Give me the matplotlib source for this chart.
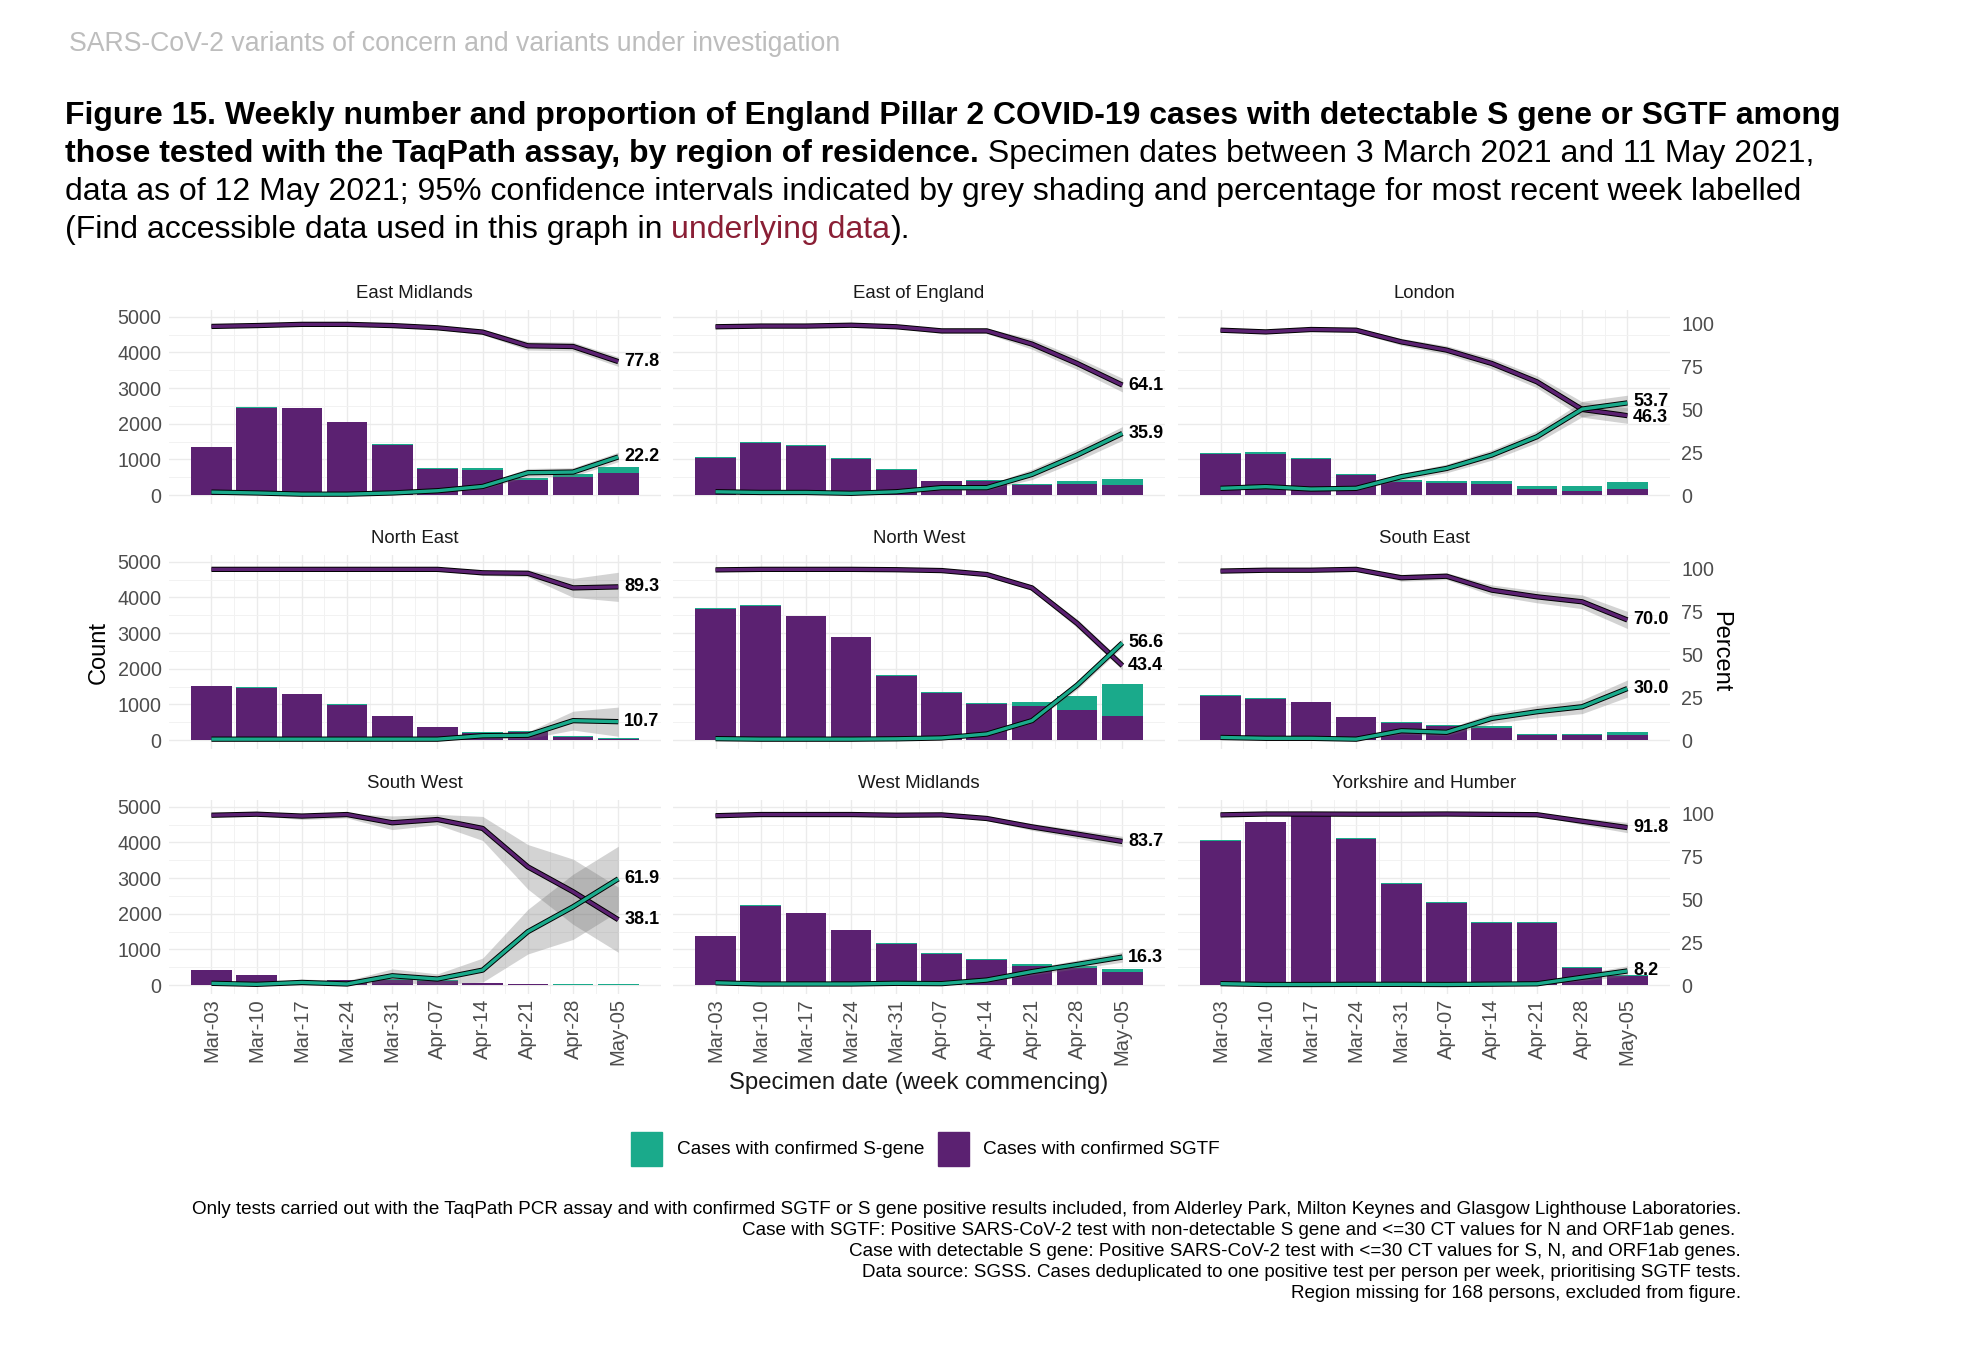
import numpy as np
import matplotlib
matplotlib.use('Agg')
import matplotlib.pyplot as plt
from matplotlib.patches import Rectangle

plt.rcParams['font.family'] = ['Liberation Sans', 'DejaVu Sans']

W, H = 1966, 1367

weeks = ['Mar-03', 'Mar-10', 'Mar-17', 'Mar-24', 'Mar-31',
         'Apr-07', 'Apr-14', 'Apr-21', 'Apr-28', 'May-05']

regions = ['East Midlands', 'East of England', 'London',
           'North East', 'North West', 'South East',
           'South West', 'West Midlands', 'Yorkshire and Humber']

# weekly counts of cases with confirmed SGTF (purple) and S-gene (teal)
sgtf_n = {
    'East Midlands':        [1333, 2448, 2438, 2047, 1404, 729, 711, 410, 512, 619],
    'East of England':      [1036, 1455, 1381, 1018, 715, 385, 402, 271, 308, 281],
    'London':               [1141, 1147, 1010, 566, 375, 340, 308, 166, 126, 169],
    'North East':           [1515, 1470, 1284, 995, 670, 372, 210, 236, 91, 42],
    'North West':           [3681, 3766, 3469, 2883, 1809, 1321, 1010, 945, 839, 686],
    'South East':           [1233, 1156, 1064, 633, 468, 401, 335, 149, 143, 150],
    'South West':           [417, 269, 123, 139, 151, 125, 55, 17, 12, 8],
    'West Midlands':        [1365, 2230, 2016, 1542, 1156, 881, 708, 543, 469, 376],
    'Yorkshire and Humber': [4033, 4566, 4752, 4096, 2839, 2311, 1748, 1745, 491, 257],
}
sgene_n = {
    'East Midlands':        [23, 30, 12, 10, 17, 19, 37, 58, 77, 176],
    'East of England':      [20, 22, 21, 10, 14, 17, 18, 37, 94, 158],
    'London':               [46, 59, 37, 23, 45, 62, 94, 86, 126, 195],
    'North East':           [8, 7, 6, 5, 3, 2, 5, 7, 12, 5],
    'North West':           [30, 19, 17, 14, 13, 16, 37, 120, 395, 894],
    'South East':           [19, 12, 11, 3, 27, 19, 48, 29, 35, 65],
    'South West':           [4, 1, 2, 1, 9, 5, 5, 8, 10, 13],
    'West Midlands':        [18, 13, 12, 9, 12, 7, 21, 46, 64, 73],
    'Yorkshire and Humber': [33, 14, 14, 16, 11, 7, 9, 12, 23, 23],
}

# weekly percentages (lines)
sgtf_pct = {
    'East Midlands':        [98.3, 98.8, 99.5, 99.5, 98.8, 97.5, 95.0, 87.0, 86.6, 77.8],
    'East of England':      [98.1, 98.5, 98.5, 99.0, 98.1, 95.7, 95.7, 88.0, 76.7, 64.1],
    'London':               [96.1, 95.1, 96.5, 96.1, 89.3, 84.5, 76.7, 66.0, 49.9, 46.3],
    'North East':           [99.5, 99.5, 99.5, 99.5, 99.5, 99.5, 97.5, 97.2, 88.7, 89.3],
    'North West':           [99.2, 99.5, 99.5, 99.5, 99.3, 98.8, 96.5, 88.7, 68.0, 43.4],
    'South East':           [98.5, 99.0, 99.0, 99.5, 94.6, 95.5, 87.4, 83.5, 80.6, 70.0],
    'South West':           [99.0, 99.6, 98.5, 99.4, 94.6, 96.5, 91.3, 68.9, 54.4, 38.1],
    'West Midlands':        [98.7, 99.4, 99.4, 99.4, 99.0, 99.2, 97.1, 92.2, 88.0, 83.7],
    'Yorkshire and Humber': [99.2, 99.7, 99.7, 99.6, 99.6, 99.7, 99.5, 99.3, 95.5, 91.8],
}
sgene_pct = {
    'East Midlands':        [1.7, 1.2, 0.5, 0.5, 1.2, 2.5, 5.0, 13.0, 13.4, 22.2],
    'East of England':      [1.9, 1.5, 1.5, 1.0, 1.9, 4.3, 4.3, 12.0, 23.3, 35.9],
    'London':               [3.9, 4.9, 3.5, 3.9, 10.7, 15.5, 23.3, 34.0, 50.1, 53.7],
    'North East':           [0.5, 0.5, 0.5, 0.5, 0.5, 0.5, 2.5, 2.8, 11.3, 10.7],
    'North West':           [0.8, 0.5, 0.5, 0.5, 0.7, 1.2, 3.5, 11.3, 32.0, 56.6],
    'South East':           [1.5, 1.0, 1.0, 0.5, 5.4, 4.5, 12.6, 16.5, 19.4, 30.0],
    'South West':           [1.0, 0.4, 1.5, 0.6, 5.4, 3.5, 8.7, 31.1, 45.6, 61.9],
    'West Midlands':        [1.3, 0.6, 0.6, 0.6, 1.0, 0.8, 2.9, 7.8, 12.0, 16.3],
    'Yorkshire and Humber': [0.8, 0.3, 0.3, 0.4, 0.4, 0.3, 0.5, 0.7, 4.5, 8.2],
}
# half width of the 95% CI (percentage points)
ci_half = {
    'East Midlands':        [0.6, 0.4, 0.4, 0.4, 0.5, 1.0, 1.5, 2.5, 2.5, 2.8],
    'East of England':      [0.7, 0.6, 0.6, 0.6, 0.8, 1.5, 1.5, 3.0, 3.5, 4.0],
    'London':               [0.8, 0.8, 0.8, 1.2, 2.0, 2.5, 3.0, 3.5, 4.5, 4.5],
    'North East':           [0.3, 0.3, 0.4, 0.5, 0.6, 0.8, 1.5, 2.0, 5.5, 8.5],
    'North West':           [0.2, 0.2, 0.2, 0.3, 0.4, 0.5, 1.0, 1.5, 2.5, 2.5],
    'South East':           [0.7, 0.6, 0.6, 0.5, 2.0, 2.0, 3.0, 3.5, 4.0, 5.0],
    'South West':           [1.0, 0.8, 2.0, 2.0, 4.0, 3.0, 7.0, 13.0, 19.0, 19.0],
    'West Midlands':        [0.6, 0.4, 0.4, 0.4, 0.6, 0.6, 1.2, 2.0, 2.5, 3.0],
    'Yorkshire and Humber': [0.3, 0.2, 0.2, 0.2, 0.3, 0.3, 0.4, 0.5, 2.0, 3.0],
}

PURPLE = '#5B2171'
TEAL = '#1AAA8B'
SCALE = 48.1   # percent -> count axis

fig = plt.figure(figsize=(W / 100, H / 100), dpi=100)
fig.patch.set_facecolor('white')
renderer = fig.canvas.get_renderer()

def fx(px):
    return px / W

def fy(py):
    return 1 - py / H

col_left = [168.5, 672.6, 1177.6]
row_top = [309.6, 554.6, 799.6]
pw, ph = 492.7, 194.7
ylo, yhi = -260, 5200
cnt_per_px = (yhi - ylo) / ph

x = np.arange(len(weeks))
for i, reg in enumerate(regions):
    r, c = divmod(i, 3)
    ax = fig.add_axes([fx(col_left[c]), fy(row_top[r] + ph), pw / W, ph / H])
    ax.set_xlim(-0.95, 9.95)
    ax.set_ylim(ylo, yhi)
    for s in ax.spines.values():
        s.set_visible(False)
    ax.set_yticks(range(0, 5001, 1000))
    ax.set_yticks(range(500, 5000, 1000), minor=True)
    ax.set_xticks(x)
    ax.set_xticks(x[:-1] + 0.5, minor=True)
    ax.grid(True, which='major', color='#EBEBEB', lw=1.0)
    ax.grid(True, which='minor', color='#F2F2F2', lw=0.7)
    ax.set_axisbelow(True)
    ax.tick_params(which='both', length=0, labelsize=14.2, labelcolor='#4D4D4D')
    ax.tick_params(axis='x', pad=3)
    ax.tick_params(axis='y', pad=5)
    if c != 0:
        ax.set_yticklabels([])
    if r == 2:
        ax.set_xticklabels(weeks, rotation=90, fontsize=14.5)
    else:
        ax.set_xticklabels([])

    sg = np.array(sgtf_n[reg])
    sn = np.array(sgene_n[reg])
    ax.bar(x, sg, width=0.9, color=PURPLE, lw=0)
    ax.bar(x, sn, width=0.9, bottom=sg, color=TEAL, lw=0)

    pt = np.array(sgtf_pct[reg])
    ps = np.array(sgene_pct[reg])
    ci = np.array(ci_half[reg])
    for p in (pt, ps):
        lo = np.clip(p - ci, 0, 100) * SCALE
        hi = np.clip(p + ci, 0, 100) * SCALE
        ax.fill_between(x, lo, hi, color='#6E6E6E', alpha=0.3, lw=0)
    labels = []
    for p, col in ((pt, PURPLE), (ps, TEAL)):
        ax.plot(x, p * SCALE, color='black', lw=3.8, solid_capstyle='butt')
        ax.plot(x, p * SCALE, color=col, lw=2.4, solid_capstyle='butt')
        t = ax.text(9.13, p[-1] * SCALE, f'{p[-1]:.1f}', ha='left', va='center',
                    fontsize=13, fontweight='bold', color='black', clip_on=False)
        labels.append(t)

    # nudge the two end labels apart when they would collide
    ya, yb = labels[0].get_position()[1], labels[1].get_position()[1]
    hgt = labels[0].get_window_extent(renderer).height * cnt_per_px * 0.95
    if abs(ya - yb) < hgt:
        mid = (ya + yb) / 2
        sgn = 1 if ya > yb else -1
        labels[0].set_y(mid + sgn * hgt / 2)
        labels[1].set_y(mid - sgn * hgt / 2)

    ax.set_title(reg, fontsize=13.4, color='#1A1A1A', pad=8.5)

    if c == 2:
        ax2 = ax.twinx()
        ax2.set_ylim(ylo / SCALE, yhi / SCALE)
        ax2.set_yticks([0, 25, 50, 75, 100])
        for s in ax2.spines.values():
            s.set_visible(False)
        ax2.tick_params(length=0, labelsize=14.2, labelcolor='#4D4D4D', pad=8)

fig.text(fx(99), fy(652), 'Count', rotation=90, ha='center', va='center', fontsize=17)
fig.text(fx(1720), fy(652), 'Percent', rotation=270, ha='center', va='center', fontsize=17)
fig.text(fx(919), fy(1083), 'Specimen date (week commencing)', ha='center', va='center',
         fontsize=17.2, color='#1A1A1A')

# header and title
fig.text(fx(69), fy(44), 'SARS-CoV-2 variants of concern and variants under investigation',
         ha='left', va='center', fontsize=19.2, color='#BDBDBD')

tsize = 23
t1 = fig.text(fx(65), fy(124), 'Figure 15. Weekly number and proportion of England Pillar 2 '
              'COVID-19 cases with detectable S gene or SGTF among',
              ha='left', va='baseline', fontsize=tsize, fontweight='bold')
t2 = fig.text(fx(65), fy(162), 'those tested with the TaqPath assay, by region of residence.',
              ha='left', va='baseline', fontsize=tsize, fontweight='bold')
bb = t2.get_window_extent(renderer)
fig.text(bb.x1 / W, fy(162), ' Specimen dates between 3 March 2021 and 11 May 2021,',
         ha='left', va='baseline', fontsize=tsize)
fig.text(fx(65), fy(200), 'data as of 12 May 2021; 95% confidence intervals indicated by grey '
         'shading and percentage for most recent week labelled',
         ha='left', va='baseline', fontsize=tsize)
t4 = fig.text(fx(65), fy(238), '(Find accessible data used in this graph in ',
              ha='left', va='baseline', fontsize=tsize)
bb = t4.get_window_extent(renderer)
t5 = fig.text(bb.x1 / W, fy(238), 'underlying data', ha='left', va='baseline',
              fontsize=tsize, color='#8A1F35')
bb = t5.get_window_extent(renderer)
fig.text(bb.x1 / W, fy(238), ').', ha='left', va='baseline', fontsize=tsize)

# legend
for sx, tx, col, lab in ((631, 677, TEAL, 'Cases with confirmed S-gene'),
                         (938, 983, PURPLE, 'Cases with confirmed SGTF')):
    fig.add_artist(Rectangle((fx(sx), fy(1166)), 31 / W, 34 / H, color=col,
                             transform=fig.transFigure))
    fig.text(fx(tx), fy(1149), lab, ha='left', va='center', fontsize=13.7)

notes = ['Only tests carried out with the TaqPath PCR assay and with confirmed SGTF or S gene '
         'positive results included, from Alderley Park, Milton Keynes and Glasgow Lighthouse Laboratories.',
         'Case with SGTF: Positive SARS-CoV-2 test with non-detectable S gene and <=30 CT values '
         'for N and ORF1ab genes. ',
         'Case with detectable S gene: Positive SARS-CoV-2 test with <=30 CT values for S, N, and ORF1ab genes.',
         'Data source: SGSS. Cases deduplicated to one positive test per person per week, '
         'prioritising SGTF tests.',
         'Region missing for 168 persons, excluded from figure.']
for k, line in enumerate(notes):
    fig.text(fx(1741), fy(1210 + k * 20.8), line, ha='right', va='center', fontsize=13.6)

fig.savefig('out.png', dpi=100)
